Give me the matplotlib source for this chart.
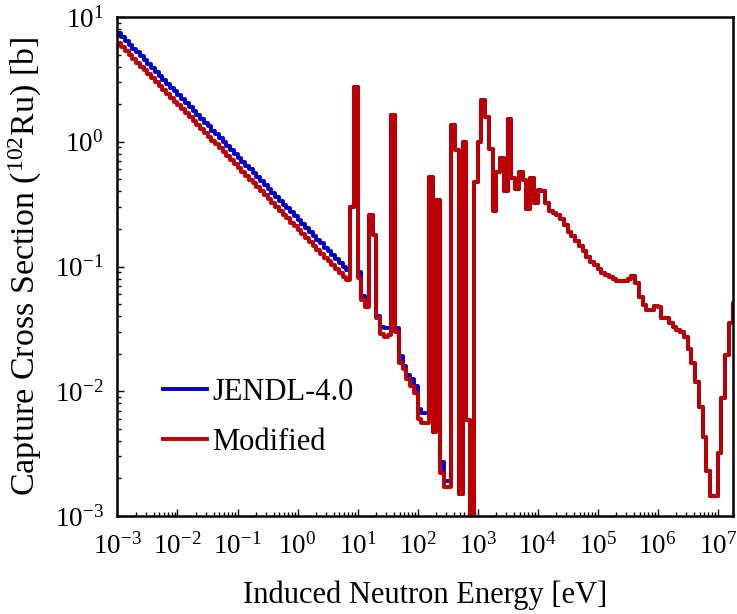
import numpy as np
import matplotlib
matplotlib.use("Agg")
import matplotlib.pyplot as plt
from matplotlib.ticker import LogLocator, NullFormatter

# group boundaries: 16 groups per decade from 1 meV up to ~20 MeV
group_edges = np.logspace(-3, 7.3125, 166)

# capture cross section per group [b], groups 0..88 (where the two sets differ)
jendl_low = [
    7.45, 6.93, 6.45, 6.00, 5.59, 5.20, 4.84, 4.50,
    4.19, 3.90, 3.63, 3.38, 3.14, 2.92, 2.72, 2.53,
    2.36, 2.19, 2.04, 1.90, 1.77, 1.64, 1.53, 1.42,
    1.33, 1.23, 1.15, 1.07, 0.994, 0.925, 0.860, 0.801,
    0.745, 0.693, 0.645, 0.600, 0.559, 0.520, 0.484, 0.450,
    0.419, 0.390, 0.363, 0.338, 0.314, 0.292, 0.272, 0.253,
    0.236, 0.219, 0.204, 0.190, 0.177, 0.164, 0.153, 0.142,
    0.133, 0.123, 0.115, 0.107, 0.099, 0.094,
    0.30, 2.75, 0.091, 0.058, 0.050, 0.26, 0.18, 0.040,
    0.033, 0.032, 0.032, 1.64, 0.032, 0.019, 0.016, 0.0135,
    0.0125, 0.011, 0.0072, 0.0067, 0.0067, 0.52, 0.0047, 0.34,
    0.0027, 0.0019, 0.0019,
]
modified_low = [
    6.18, 5.75, 5.35, 4.98, 4.64, 4.31, 4.01, 3.74,
    3.48, 3.24, 3.01, 2.80, 2.61, 2.43, 2.25, 2.10,
    1.96, 1.82, 1.69, 1.58, 1.47, 1.36, 1.27, 1.18,
    1.10, 1.02, 0.952, 0.886, 0.825, 0.768, 0.714, 0.665,
    0.618, 0.575, 0.535, 0.498, 0.464, 0.431, 0.401, 0.374,
    0.348, 0.324, 0.301, 0.280, 0.261, 0.243, 0.225, 0.210,
    0.196, 0.182, 0.169, 0.158, 0.147, 0.136, 0.127, 0.118,
    0.110, 0.102, 0.0955, 0.089, 0.082, 0.078,
    0.30, 2.75, 0.081, 0.054, 0.047, 0.26, 0.18, 0.039,
    0.029, 0.027, 0.028, 1.64, 0.030, 0.017, 0.015, 0.0125,
    0.011, 0.0097, 0.0060, 0.0056, 0.0056, 0.52, 0.0047, 0.34,
    0.0022, 0.0017, 0.0017,
]
# groups 89..164, identical in both sets
shared_high = [
    1.36, 0.86, 0.0015, 1.0, 0.0059, 0.0005, 0.475, 1.0,
    2.16, 1.58, 0.88, 0.28, 0.57, 0.74, 0.40, 1.52,
    0.51, 0.42, 0.57, 0.49, 0.29, 0.51, 0.32, 0.41,
    0.40, 0.32, 0.28, 0.27, 0.26, 0.24, 0.215, 0.19,
    0.175, 0.16, 0.145, 0.132, 0.12, 0.109, 0.102, 0.095,
    0.089, 0.085, 0.082, 0.079, 0.077, 0.076, 0.077, 0.079,
    0.084, 0.074, 0.057, 0.049, 0.045, 0.045, 0.048, 0.047,
    0.0385, 0.0385, 0.035, 0.033, 0.031, 0.030, 0.027, 0.022,
    0.017, 0.0118, 0.0075, 0.0043, 0.0023, 0.00146, 0.00146, 0.0032,
    0.0088, 0.0196, 0.035, 0.051,
]

jendl = np.array(jendl_low + shared_high)
modified = np.array(modified_low + shared_high)

plt.rcParams["font.family"] = "Liberation Serif"
plt.rcParams["mathtext.fontset"] = "custom"
plt.rcParams["mathtext.rm"] = "Liberation Serif"
plt.rcParams["mathtext.it"] = "Liberation Serif:italic"
plt.rcParams["mathtext.bf"] = "Liberation Serif:bold"
plt.rcParams["axes.unicode_minus"] = False

fig = plt.figure(figsize=(7.37, 6.14), dpi=100)
ax = fig.add_axes([0.1594, 0.1596, 0.8352, 0.8127])

ax.step(group_edges, np.append(jendl, jendl[-1]), where="post",
        color="#0000CC", lw=2.8, label="JENDL-4.0")
ax.step(group_edges, np.append(modified, modified[-1]), where="post",
        color="#C00000", lw=2.8, label="Modified")

ax.set_xscale("log")
ax.set_yscale("log")
ax.set_xlim(1e-3, 1.8e7)
ax.set_ylim(1e-3, 10)

ax.xaxis.set_major_locator(LogLocator(base=10, numticks=30))
ax.xaxis.set_minor_locator(LogLocator(base=10, subs=np.arange(2, 10), numticks=300))
ax.yaxis.set_major_locator(LogLocator(base=10, numticks=30))
ax.yaxis.set_minor_locator(LogLocator(base=10, subs=np.arange(2, 10), numticks=300))
ax.xaxis.set_minor_formatter(NullFormatter())
ax.yaxis.set_minor_formatter(NullFormatter())

ax.tick_params(which="both", direction="in", top=False, right=False, width=1.0)
ax.tick_params(which="major", length=5, labelsize=19.5)
ax.tick_params(which="minor", length=3)
ax.tick_params(axis="x", which="major", pad=12)
ax.tick_params(axis="y", which="major", pad=10)
for sp in ax.spines.values():
    sp.set_linewidth(1.8)

ax.set_xlabel("Induced Neutron Energy [eV]", fontsize=22, labelpad=15)
ax.set_ylabel(r"Capture Cross Section ($^{102}$Ru) [b]", fontsize=24.5, labelpad=8)

ax.legend(loc="center left", bbox_to_anchor=(0.074, 0.198), frameon=False,
          fontsize=22, handlelength=1.45, handletextpad=0.15, labelspacing=0.7,
          borderpad=0, borderaxespad=0)

fig.savefig("out.png", dpi=100)
